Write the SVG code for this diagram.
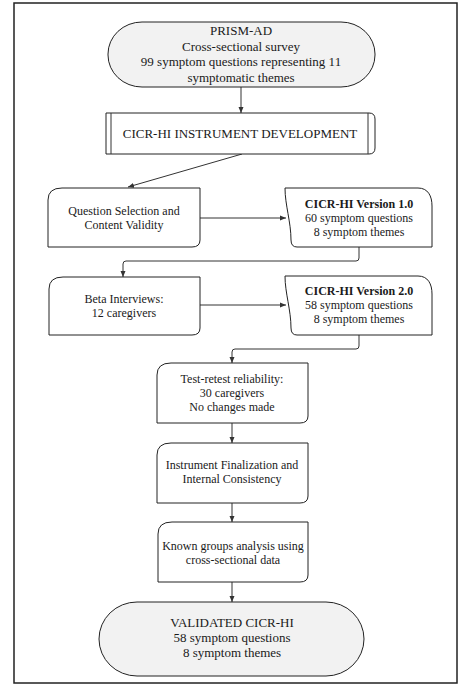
<svg xmlns="http://www.w3.org/2000/svg" width="473" height="691" viewBox="0 0 473 691">
<style>
.frame{fill:#fff;stroke:#222;stroke-width:1.5}
.term{fill:#f2f2f2;stroke:#222;stroke-width:1}
.box{fill:#fff;stroke:#222;stroke-width:1}
.conn{fill:none;stroke:#333;stroke-width:1}
text{font-family:"Liberation Serif","Times New Roman",serif;font-size:13px;fill:#1a1a1a;text-anchor:middle}
.s{font-size:12px}
.b{font-weight:bold}
</style>
<defs>
<marker id="ah" markerWidth="6" markerHeight="6" refX="6" refY="3" orient="auto" markerUnits="userSpaceOnUse">
<path d="M0,0.5 L6,3 L0,5.5 Z" fill="#333"/>
</marker>
</defs>
<rect class="frame" x="14" y="3" width="443" height="680"/>
<g id="connectors">
<path class="conn" marker-end="url(#ah)" d="M241,87 V113"/>
<path class="conn" marker-end="url(#ah)" d="M242,154 L128,187"/>
<path class="conn" marker-end="url(#ah)" d="M200,218 H286"/>
<path class="conn" marker-end="url(#ah)" d="M359,247 V258 Q359,261 356,261 H126 Q123,261 123,264 V277"/>
<path class="conn" marker-end="url(#ah)" d="M200,305 H286"/>
<path class="conn" marker-end="url(#ah)" d="M359,335 V346 Q359,349 356,349 H235 Q232,349 232,352 V363"/>
<path class="conn" marker-end="url(#ah)" d="M232,423 V443"/>
<path class="conn" marker-end="url(#ah)" d="M232,503 V522"/>
<path class="conn" marker-end="url(#ah)" d="M232,582 V602"/>
</g>
<g id="prism">
<rect class="term" x="108" y="22" width="267" height="65" rx="34" ry="32"/>
<text x="241" y="35">PRISM-AD</text>
<text x="241" y="50.5">Cross-sectional survey</text>
<text x="241" y="66">99 symptom questions representing 11</text>
<text x="241" y="81.5">symptomatic themes</text>
</g>
<g id="dev">
<path class="box" d="M106,113 H369 Q375,113 375,119 V148 Q375,154 369,154 H106 Z"/>
<line class="conn" x1="111" y1="113" x2="111" y2="154"/>
<line class="conn" x1="368" y1="113" x2="368" y2="154"/>
<text x="240" y="138">CICR-HI INSTRUMENT DEVELOPMENT</text>
</g>
<g id="qs">
<path class="box" d="M48,247 V200 Q48,188 62,188 H200 V240 Q200,247 192,247 Z"/>
<text class="s" x="124" y="214.5">Question Selection and</text>
<text class="s" x="124" y="228.5">Content Validity</text>
</g>
<g id="v1">
<path class="box" d="M285,188 H418 C428,188 432,196 432,206 V247 H297 Q291,247 291,240 C291,222 285,205 285,188 Z"/>
<text class="s b" x="359" y="207.5">CICR-HI Version 1.0</text>
<text class="s" x="359" y="221.5">60 symptom questions</text>
<text class="s" x="359" y="236">8 symptom themes</text>
</g>
<g id="beta">
<path class="box" d="M49,335 V289 Q49,277 63,277 H200 V328 Q200,335 192,335 Z"/>
<text class="s" x="124" y="302.5">Beta Interviews:</text>
<text class="s" x="124" y="316.5">12 caregivers</text>
</g>
<g id="v2">
<path class="box" d="M285,276 H418 C428,276 432,284 432,294 V335 H297 Q291,335 291,328 C291,310 285,293 285,276 Z"/>
<text class="s b" x="359" y="294.5">CICR-HI Version 2.0</text>
<text class="s" x="359" y="309">58 symptom questions</text>
<text class="s" x="359" y="322.5">8 symptom themes</text>
</g>
<g id="test">
<path class="box" d="M157,423 V375 Q157,363 171,363 H308 V416 Q308,423 300,423 Z"/>
<text class="s" x="232" y="383">Test-retest reliability:</text>
<text class="s" x="232" y="397">30 caregivers</text>
<text class="s" x="232" y="411">No changes made</text>
</g>
<g id="final">
<path class="box" d="M157,503 V455 Q157,443 171,443 H308 V496 Q308,503 300,503 Z"/>
<text class="s" x="232" y="469">Instrument Finalization and</text>
<text class="s" x="232" y="482.5">Internal Consistency</text>
</g>
<g id="known">
<path class="box" d="M158,582 V534 Q158,522 172,522 H308 V575 Q308,582 300,582 Z"/>
<text class="s" x="233" y="550">Known groups analysis using</text>
<text class="s" x="233" y="564">cross-sectional data</text>
</g>
<g id="validated">
<rect class="term" x="99" y="602" width="265" height="74" rx="38" ry="37"/>
<text x="232" y="627">VALIDATED CICR-HI</text>
<text x="232" y="642">58 symptom questions</text>
<text x="232" y="657">8 symptom themes</text>
</g>
</svg>
